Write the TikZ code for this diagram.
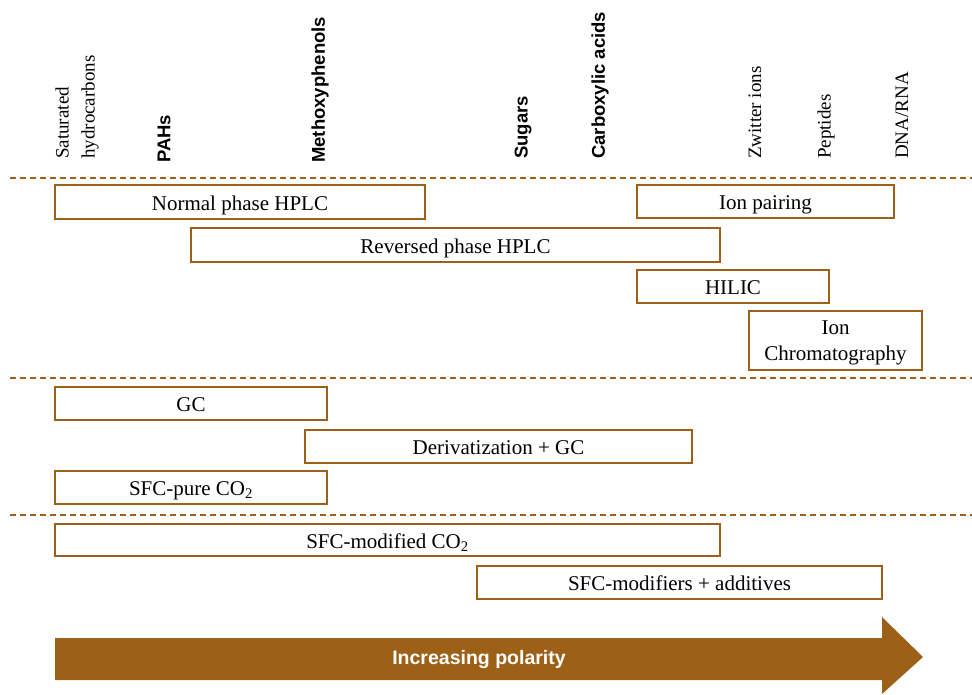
\documentclass[tikz,border=0pt]{standalone}
\usepackage{fontspec}
\setmainfont{Liberation Serif}
\newfontfamily\polsans{Liberation Sans}
\usetikzlibrary{positioning, calc, arrows.meta}
\definecolor{polbrown}{RGB}{157,96,23}

\begin{document}
\begin{tikzpicture}[x=1pt, y=-1pt, >=stealth,
    method/.style={draw=polbrown, line width=2pt, fill=white, inner sep=0pt, align=center,
        text height=17pt, text depth=1pt, font=\fontsize{21}{26}\selectfont},
    cmpd/.style={rotate=90, anchor=west, inner sep=0pt, font=\fontsize{19}{26}\selectfont},
    cmpdbold/.style={cmpd, font=\polsans\bfseries\fontsize{18.5}{22}\selectfont},
    divider/.style={draw=polbrown, line width=1.2pt, dash pattern=on 6pt off 4pt}]

    \useasboundingbox (0,0) rectangle (972,694);

    % Compound classes
    \def\ybase{159}
    \node[cmpd, align=left] (sat) at (77,\ybase) {Saturated\\hydrocarbons};
    \node[cmpdbold] (pahs) at (164,\ybase+4) {PAHs};
    \node[cmpdbold] (methoxy) at (320,\ybase+4) {Methoxyphenols};
    \node[cmpdbold] (sugars) at (523,\ybase) {Sugars};
    \node[cmpdbold] (carbox) at (600,\ybase) {Carboxylic acids};
    \node[cmpd] (zwitter) at (755,\ybase) {Zwitter ions};
    \node[cmpd] (peptides) at (826,\ybase) {Peptides};
    \node[cmpd] (dna) at (902,\ybase) {DNA/RNA};

    % Dividers
    \draw[divider] (10,178) -- (972,178);
    \draw[divider] (10,378) -- (972,378);
    \draw[divider] (10,515) -- (972,515);

    % Liquid chromatography
    \node[method, minimum width=370pt, minimum height=34pt] (nphplc) at (240,202) {Normal phase HPLC};
    \node[method, minimum width=257pt, minimum height=33pt] (ionpair) at (765.5,201.5) {Ion pairing};
    \node[method, minimum width=529pt, minimum height=34pt] (rphplc) at (455.5,245) {Reversed phase HPLC};
    \node[method, minimum width=192pt, minimum height=33pt] (hilic) at (733,286.5) {HILIC};
    \node[method, minimum width=173pt, minimum height=59pt, text height=42pt, text depth=2pt] (ionchrom) at (835.5,340.5) {Ion\\Chromatography};

    % Gas chromatography
    \node[method, minimum width=272pt, minimum height=33pt] (gc) at (191,403.5) {GC};
    \node[method, minimum width=387pt, minimum height=33pt] (derivgc) at (498.5,446.5) {Derivatization + GC};
    \node[method, minimum width=272pt, minimum height=33pt] (sfcpure) at (191,487.5) {SFC-pure CO\textsubscript{2}};

    % Supercritical fluid chromatography
    \node[method, minimum width=665pt, minimum height=32pt] (sfcmod) at (387.5,540) {SFC-modified CO\textsubscript{2}};
    \node[method, minimum width=405pt, minimum height=33pt] (sfcadd) at (679.5,582.5) {SFC-modifiers + additives};

    % Polarity arrow
    \fill[polbrown] (55,638) -- (882,638) -- (882,617) -- (923,657) -- (882,694) -- (882,680) -- (55,680) -- cycle;
    \node[text=white, font=\polsans\bfseries\fontsize{19.5}{22}\selectfont] (polarity) at (479,659) {Increasing polarity};
\end{tikzpicture}
\end{document}
